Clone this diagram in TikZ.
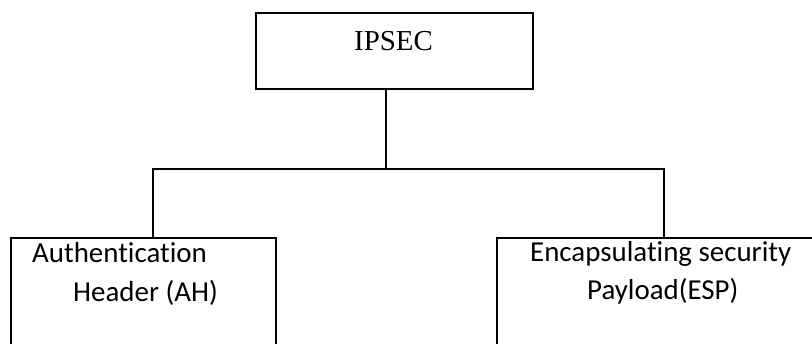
\documentclass[tikz,border=0pt]{standalone}
\usepackage{fontspec}
\setmainfont{Liberation Serif}
\newfontfamily\bodyfont[Ligatures={NoCommon,NoRequired,NoContextual}]{Carlito}
\begin{document}
\begin{tikzpicture}[x=1pt,y=-1pt,
  box/.style={draw=black,line width=1.4pt,fill=none},
  wire/.style={draw=black,line width=1.4pt},
  title/.style={inner sep=0pt,anchor=base west,font=\fontsize{28.9}{34}\selectfont},
  label/.style={inner sep=0pt,anchor=base west,font=\bodyfont\fontsize{28.9}{34}\selectfont}]
\useasboundingbox (0,0) rectangle (812,344);
\clip (0,0) rectangle (812,344);
% boxes
\node[box,minimum width=277pt,minimum height=76pt,inner sep=0pt] (ipsec) at (394.5,51) {};
\node[box,minimum width=265pt,minimum height=200pt,inner sep=0pt] (ah) at (143.5,338) {};
\node[box,minimum width=340pt,minimum height=200pt,inner sep=0pt] (esp) at (667,338) {};
% labels
\node[title] (tipsec) at (354,51) {IPSEC};
\node[label] (tah1) at (32,263) {Authentication};
\node[label] (tah2) at (73,302) {Header (AH)};
\node[label] (tesp1) at (530,262) {Encapsulating security};
\node[label] (tesp2) at (587,300) {Payload(ESP)};
% tree connector
\coordinate (jc) at (386,169);
\coordinate (jl) at (153,169);
\coordinate (jr) at (664,169);
\draw[wire] (jc |- ipsec.south) -- (jc);
\draw[wire] (jl |- ah.north) -- (jl) -- (jr) -- (jr |- esp.north);
\end{tikzpicture}
\end{document}
